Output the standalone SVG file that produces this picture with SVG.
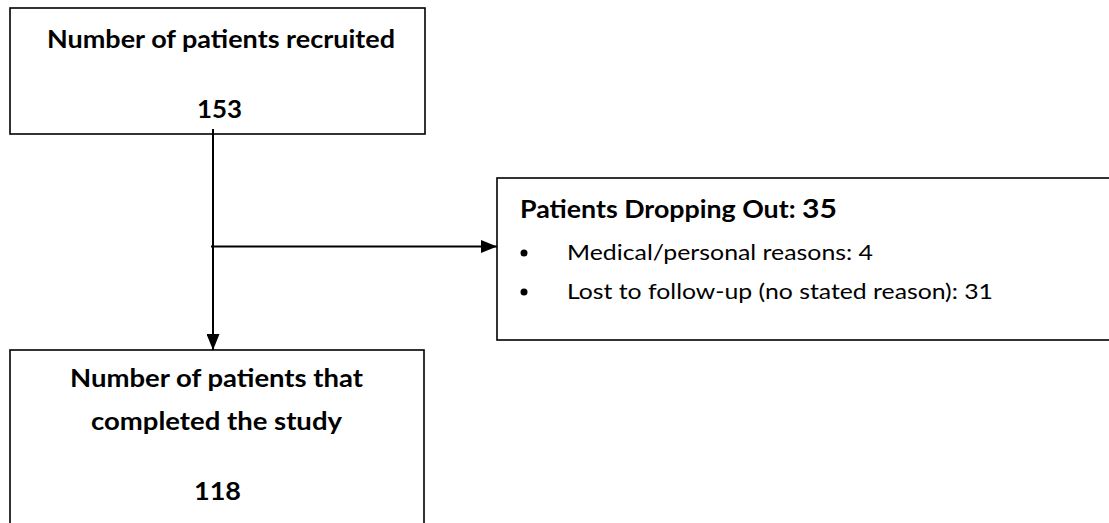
<svg xmlns="http://www.w3.org/2000/svg" width="1109" height="523" viewBox="0 0 1109 523">
<style>
.box{fill:#fff;stroke:#000;stroke-width:1.6}
.t{font-family:Lato,"Open Sans","Liberation Sans",sans-serif;fill:#000}
.b{font-weight:bold;font-size:24px}
.n{font-size:21px}
.c{text-anchor:middle}
.ln{stroke:#000;stroke-width:2;fill:none}
</style>
<defs>
<marker id="ah" viewBox="0 0 16 13" refX="16" refY="6.5" markerWidth="16" markerHeight="13" markerUnits="userSpaceOnUse" orient="auto">
<path d="M0,0 L16,6.5 L0,13 z" fill="#000"/>
</marker>
</defs>
<rect width="1109" height="523" fill="#fff"/>
<g id="node-recruited">
<rect class="box" x="10" y="8" width="415" height="126"/>
<text class="t b c" x="221" y="48" textLength="348" lengthAdjust="spacingAndGlyphs">Number of patients recruited</text>
<text class="t b c" x="219.5" y="118" font-size="27" textLength="45" lengthAdjust="spacingAndGlyphs">153</text>
</g>
<g id="node-dropout">
<rect class="box" x="497" y="178" width="620" height="162"/>
<text class="t b" x="520" y="218" textLength="317" lengthAdjust="spacingAndGlyphs">Patients Dropping Out: <tspan font-size="27">35</tspan></text>
<circle cx="524" cy="253" r="3.5" fill="#000"/>
<circle cx="524" cy="292" r="3.5" fill="#000"/>
<text class="t n" x="567" y="260" textLength="306" lengthAdjust="spacingAndGlyphs">Medical/personal reasons: 4</text>
<text class="t n" x="567" y="299" textLength="426" lengthAdjust="spacingAndGlyphs">Lost to follow-up (no stated reason): 31</text>
</g>
<g id="node-completed">
<rect class="box" x="10" y="350" width="414" height="190"/>
<text class="t b c" x="216.5" y="387" textLength="293" lengthAdjust="spacingAndGlyphs">Number of patients that</text>
<text class="t b c" x="216.5" y="430" textLength="251" lengthAdjust="spacingAndGlyphs">completed the study</text>
<text class="t b c" x="217.5" y="500" font-size="27" textLength="47" lengthAdjust="spacingAndGlyphs">118</text>
</g>
<g id="connectors">
<line class="ln" x1="213" y1="129" x2="213" y2="350" marker-end="url(#ah)"/>
<line class="ln" x1="211" y1="246.5" x2="497" y2="246.5" marker-end="url(#ah)"/>
</g>
</svg>
